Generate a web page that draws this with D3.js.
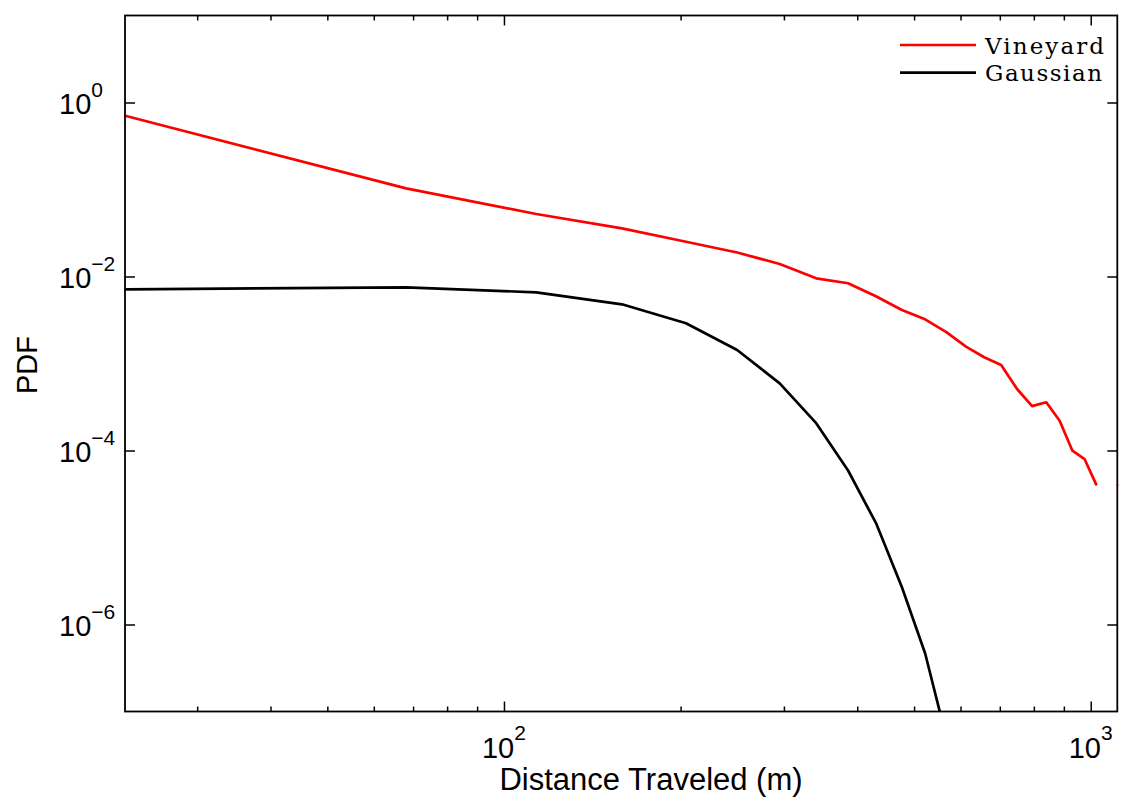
<!DOCTYPE html>
<html lang="en">
	<head>
		<meta charset="utf-8">
		<title>PDF of distance traveled</title>
		<script type="text/javascript" src="https://cdn.jsdelivr.net/npm/d3@7"></script>
		<style type="text/css">
			body { margin: 0; background: #fff; }
			text { font-family: "Liberation Sans", Arial, sans-serif; fill: #000; }
			.legend text { font-family: "DejaVu Serif", "Liberation Serif", serif; }
		</style>
	</head>
	<body>
		<script type="text/javascript">
			//Bin centres (m)
			var distance = [22.7, 68.1, 113.5, 158.9, 204.3, 249.7, 295.1, 340.5, 385.9, 431.3, 476.7, 522.1, 567.5,
			                612.9, 658.3, 703.7, 749.1, 794.5, 839.9, 885.3, 930.7, 976.1, 1021.5, 1066.9, 1112.3];

			//PDF values (null = empty bin)
			var vineyard = [0.70, 0.103, 0.0523, 0.0358, 0.0251, 0.0189, 0.0139, 0.00953, 0.00836, 0.00589, 0.00412,
			                0.00322, 0.00229, 0.00156, 0.00118, 0.000962, 0.000509, 0.000324, 0.000358, 0.00022,
			                0.0000995, 0.0000798, 0.0000408, null, 0.0000401];
			var gaussian = [0.0071, 0.00751, 0.00658, 0.00479, 0.0029, 0.00143, 0.000591, 0.000206, 0.0000589,
			                0.0000143, 2.68e-6, 4.67e-7, 5e-8];

			//Ticks
			var xMajor = [100, 1000];
			var xMinor = [30, 40, 50, 60, 70, 80, 90, 200, 300, 400, 500, 600, 700, 800, 900];
			var xLabels = ["2", "3"];
			var yMajor = [1e0, 1e-2, 1e-4, 1e-6];
			var yLabels = ["0", "\u22122", "\u22124", "\u22126"];

			var seriesNames = ["Vineyard", "Gaussian"];
			var seriesColors = ["#ff0000", "#000000"];

			//Width and height
			var w = 1123;
			var h = 804;
			var pLeft = 125, pTop = 15.5, pRight = 1117.3, pBottom = 711.5;

			var x = d3.scaleLog().domain([22.6, 1110]).range([pLeft, pRight]);
			var y = d3.scaleLog().domain([1e-7, 1e1]).range([pBottom, pTop]);

			var svg = d3.select("body")
						.append("svg")
						.attr("width", w)
						.attr("height", h);

			svg.append("clipPath")
			   .attr("id", "plot")
			   .append("rect")
			   .attr("x", pLeft)
			   .attr("y", pTop)
			   .attr("width", pRight - pLeft + 1)
			   .attr("height", pBottom - pTop);

			//Tick marks on all four sides, pointing inward
			function ticks(axis, values, size, tx, ty) {
				var g = svg.append("g")
				   .attr("transform", "translate(" + tx + "," + ty + ")")
				   .call(axis.tickValues(values).tickSize(-size).tickFormat(""));
				g.select(".domain").remove();
				g.selectAll("line").attr("stroke", "#000").attr("stroke-width", 1.5);
			}
			ticks(d3.axisBottom(x), xMajor, 10, 0, pBottom);
			ticks(d3.axisBottom(x), xMinor, 5, 0, pBottom);
			ticks(d3.axisTop(x), xMajor, 10, 0, pTop);
			ticks(d3.axisTop(x), xMinor, 5, 0, pTop);
			ticks(d3.axisLeft(y), yMajor, 10, pLeft, 0);
			ticks(d3.axisRight(y), yMajor, 10, pRight, 0);

			//Data lines
			var line = d3.line()
						 .defined(function(d) { return d[1] != null; })
						 .x(function(d) { return x(d[0]); })
						 .y(function(d) { return y(d[1]); });

			[vineyard, gaussian].forEach(function(vals, i) {
				var pts = vals.map(function(v, k) { return [distance[k], v]; });
				svg.append("path")
				   .attr("clip-path", "url(#plot)")
				   .attr("d", line(pts))
				   .attr("fill", "none")
				   .attr("stroke", seriesColors[i])
				   .attr("stroke-width", 2.7)
				   .attr("stroke-linejoin", "round")
				   .attr("stroke-linecap", "round");
			});

			//Box
			svg.append("rect")
			   .attr("x", pLeft)
			   .attr("y", pTop)
			   .attr("width", pRight - pLeft)
			   .attr("height", pBottom - pTop)
			   .attr("fill", "none")
			   .attr("stroke", "#000")
			   .attr("stroke-width", 1.8);

			//Tick labels
			xMajor.forEach(function(v, i) {
				var t = svg.append("text")
				   .attr("x", x(v))
				   .attr("y", 758)
				   .attr("text-anchor", "middle")
				   .style("font-size", "29px");
				t.append("tspan").text("10");
				t.append("tspan").attr("dy", -18).style("font-size", "21px").text(xLabels[i]);
			});
			yMajor.forEach(function(v, i) {
				var t = svg.append("text")
				   .attr("x", 59)
				   .attr("y", y(v) + 11.5)
				   .style("font-size", "29px");
				t.append("tspan").text("10");
				t.append("tspan").attr("dy", -17).style("font-size", "21px").text(yLabels[i]);
			});

			//Axis titles
			svg.append("text")
			   .attr("x", 651)
			   .attr("y", 790)
			   .attr("text-anchor", "middle")
			   .style("font-size", "31px")
			   .text("Distance Traveled (m)");
			svg.append("text")
			   .attr("transform", "translate(37," + 365 + ") rotate(-90)")
			   .attr("text-anchor", "middle")
			   .style("font-size", "29px")
			   .text("PDF");

			//Legend
			var legend = svg.append("g").attr("class", "legend");
			var legendY = [45, 72.7];
			seriesNames.forEach(function(name, i) {
				legend.append("line")
				   .attr("x1", 900).attr("x2", 976)
				   .attr("y1", legendY[i]).attr("y2", legendY[i])
				   .attr("stroke", seriesColors[i])
				   .attr("stroke-width", 2.7);
				legend.append("text")
				   .attr("x", 985)
				   .attr("y", legendY[i] + 8.7)
				   .attr("textLength", i == 0 ? 119 : 117)
				   .attr("lengthAdjust", "spacing")
				   .style("font-size", "23px")
				   .text(name);
			});
		</script>
	</body>
</html>
